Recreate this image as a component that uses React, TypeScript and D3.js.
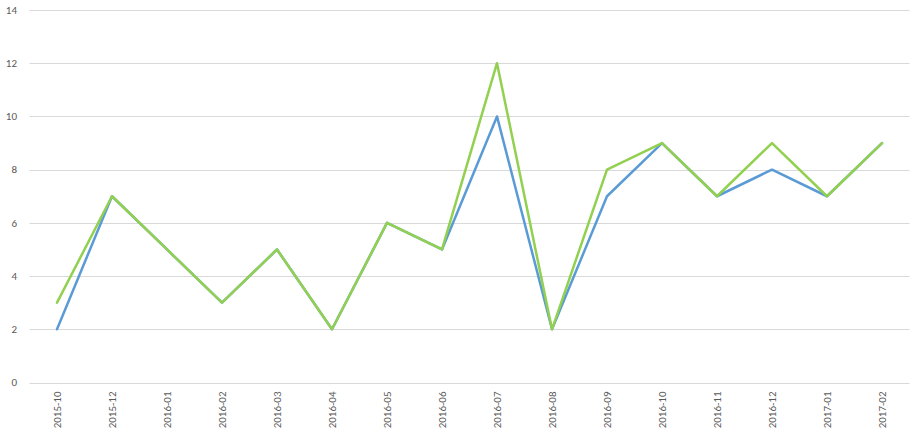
import React from "react";
import * as d3 from "d3";

const categories = ["2015-10","2015-12","2016-01","2016-02","2016-03","2016-04","2016-05","2016-06","2016-07","2016-08","2016-09","2016-10","2016-11","2016-12","2017-01","2017-02"];
const seriesBlue = [2,7,5,3,5,2,6,5,10,2,7,9,7,8,7,9];
const seriesGreen = [3,7,5,3,5,2,6,5,12,2,8,9,7,9,7,9];
const yTicks = [0,2,4,6,8,10,12,14];

export default function App() {
  const W = 921, H = 440;
  const left = 29.5, right = 909.5, top = 10, bottom = 382.5;
  const x = d3.scaleBand<string>().domain(categories).range([left, right]);
  const y = d3.scaleLinear().domain([0, 14]).range([bottom, top]);
  const cx = (c: string) => (x(c) as number) + x.bandwidth() / 2;
  const line = d3.line<number>().x((_, i) => cx(categories[i])).y(d => y(d));
  return (
    <svg width={W} height={H} style={{ position: "absolute", left: 0, top: 0 }} fontFamily="Calibri, Carlito, 'Liberation Sans', sans-serif">
      {yTicks.map(t => (
        <g key={t}>
          <line x1={left} x2={right} y1={Math.round(y(t)) + 0.5} y2={Math.round(y(t)) + 0.5} stroke="#d9d9d9" strokeWidth={1} />
          <text x={17} y={y(t)} dy="0.35em" textAnchor="end" fontSize={11} fill="#595959">{t}</text>
        </g>
      ))}
      {categories.map(c => (
        <text key={c} transform={`translate(${cx(c)},${bottom + 9}) rotate(-90)`} textAnchor="end" dy="0.35em" fontSize={11} fill="#595959">{c}</text>
      ))}
      <path d={line(seriesBlue) as string} fill="none" stroke="#5b9bd5" strokeWidth={2.5} strokeLinejoin="round" strokeLinecap="round" />
      <path d={line(seriesGreen) as string} fill="none" stroke="#92d050" strokeWidth={2.5} strokeLinejoin="round" strokeLinecap="round" />
    </svg>
  );
}
